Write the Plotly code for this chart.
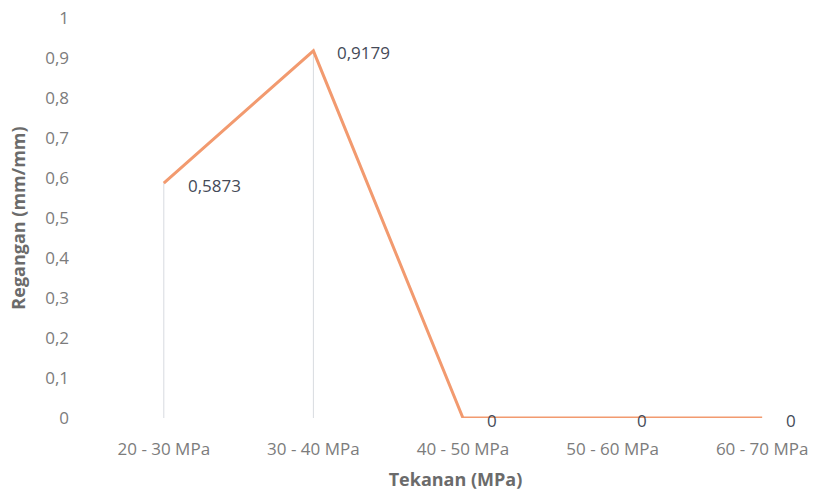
import plotly.graph_objects as go

categories = ["20 - 30 MPa", "30 - 40 MPa", "40 - 50 MPa", "50 - 60 MPa", "60 - 70 MPa"]
strain = [0.5873, 0.9179, 0, 0, 0]
labels = ["0,5873", "0,9179", "0", "0", "0"]
y_ticks = [0, 0.1, 0.2, 0.3, 0.4, 0.5, 0.6, 0.7, 0.8, 0.9, 1]
y_tick_text = ["0", "0,1", "0,2", "0,3", "0,4", "0,5", "0,6", "0,7", "0,8", "0,9", "1"]

FONT = "'Open Sans', Lato, sans-serif"
TICK = "#7c7c7c"
LABEL = "#454a57"
TITLE = "#6b6b6b"

fig = go.Figure()

# drop lines from each point down to the category axis
for i, v in enumerate(strain):
    if v > 0:
        fig.add_shape(type="line", xref="x", yref="y", x0=i, x1=i, y0=0, y1=v,
                      line=dict(color="#d8dbe0", width=1), layer="below")

fig.add_trace(go.Scatter(
    x=list(range(len(categories))), y=strain, mode="lines",
    line=dict(color="#f29a6f", width=3),
    cliponaxis=False, showlegend=False, hoverinfo="y",
))

# value labels to the right of each point
for i, (v, t) in enumerate(zip(strain, labels)):
    fig.add_annotation(x=i, y=v, xref="x", yref="y", text=t, showarrow=False,
                       xanchor="left", yanchor="middle", xshift=22, yshift=-2,
                       font=dict(family=FONT, size=17, color=LABEL))

fig.update_layout(
    width=822, height=496,
    margin=dict(l=89, r=0, t=18, b=78),
    paper_bgcolor="white", plot_bgcolor="white",
    font=dict(family=FONT, color=TICK),
    xaxis=dict(
        range=[-0.5, 4.40], tickmode="array",
        tickvals=list(range(len(categories))), ticktext=categories,
        showgrid=False, zeroline=False, showline=False, ticks="",
        tickfont=dict(size=17, color=TICK), automargin=False, ticklabelstandoff=19,
        title=dict(text="<b>Tekanan (MPa)</b>", font=dict(size=18, color=TITLE), standoff=14),
    ),
    yaxis=dict(
        range=[0, 1], tickmode="array", tickvals=y_ticks, ticktext=y_tick_text,
        showgrid=False, zeroline=False, showline=False, ticks="",
        tickfont=dict(size=17, color=TICK), automargin=False, ticklabelstandoff=19,
        title=dict(text="<b>Regangan (mm/mm)</b>", font=dict(size=18, color=TITLE), standoff=14),
    ),
)

fig.write_html("out.html")
